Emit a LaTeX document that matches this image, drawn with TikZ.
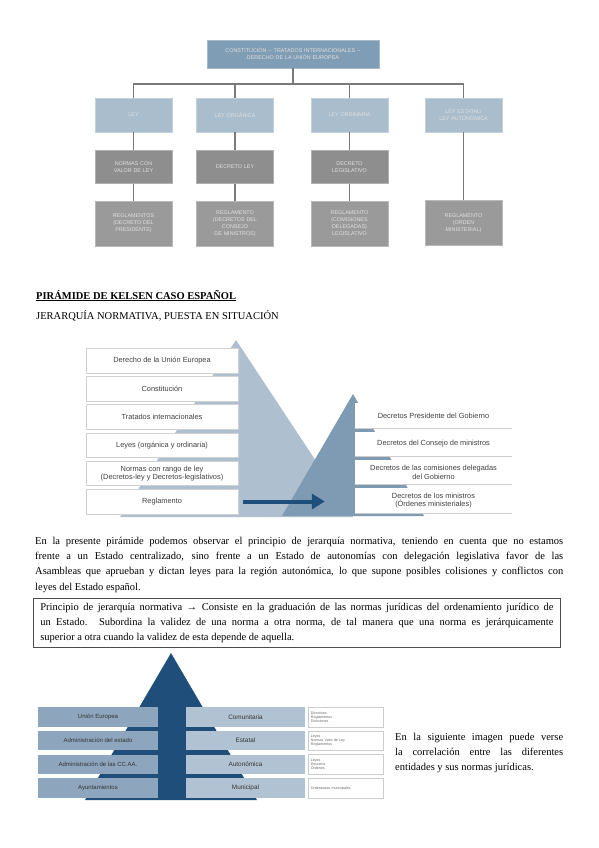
\documentclass[tikz,border=0pt]{standalone}
\usepackage{fontspec}
\setmainfont{Liberation Serif}
\newfontfamily\diagfont{Liberation Sans}
\usetikzlibrary{arrows.meta, positioning, calc}
\definecolor{kgrayblue}{HTML}{7F9DB5}
\definecolor{klightblue}{HTML}{AABDCC}
\definecolor{kgray}{HTML}{8E8E8E}
\definecolor{kgraylt}{HTML}{9A9A9A}
\definecolor{kline}{HTML}{7A7A7A}
\definecolor{kpale}{HTML}{AEC0CF}
\definecolor{ksteel}{HTML}{7F9BB3}
\definecolor{knavy}{HTML}{1F4E7B}
\definecolor{kmid}{HTML}{8DA6BD}
\definecolor{ksoft}{HTML}{B1C3D2}

\begin{document}
\begin{tikzpicture}[x=1pt, y=-1pt,
    orgbox/.style={rectangle, fill=#1, draw=#1!70!white, line width=0.5pt,
                   minimum width=77pt, minimum height=34pt, text width=72pt,
                   align=center, inner sep=1pt,
                   font=\diagfont\fontsize{5.4}{7}\selectfont, text=white!88!black},
    conn/.style={kline, line width=1.6pt},
    stepbox/.style={rectangle, fill=white, draw=black!18, line width=0.5pt,
                    minimum width=152pt, minimum height=24.5pt, align=center,
                    inner sep=1pt, font=\diagfont\fontsize{7.4}{8.4}\selectfont, text=black!75},
    decbox/.style={rectangle, fill=white, minimum width=157pt, minimum height=24.5pt,
                   align=center, inner sep=1pt,
                   font=\diagfont\fontsize{7.4}{8.4}\selectfont, text=black!75},
    rule/.style={black!20, line width=0.8pt},
    bigarrow/.style={-{Triangle[length=13pt, width=15pt]}, knavy, line width=4pt},
    entbox/.style={rectangle, fill=#1, minimum width=120pt, minimum height=19.5pt,
                   inner sep=1pt, font=\diagfont\fontsize{6}{7}\selectfont, text=black!80},
    normbox/.style={rectangle, fill=white, draw=black!20, line width=0.4pt,
                    minimum width=75pt, minimum height=19.5pt, text width=70pt,
                    align=left, inner sep=1pt,
                    font=\diagfont\fontsize{3.6}{4.2}\selectfont, text=black!60},
    para/.style={anchor=north west, align=justify, inner sep=0pt,
                 font=\fontsize{10.5}{15.2}\selectfont}
  ]
    \useasboundingbox (0,0) rectangle (599,848);

    % organigrama
    \node[orgbox=kgrayblue, minimum width=172pt, minimum height=28pt, text width=168pt] (root) at (293,54)
        {CONSTITUCIÓN -- TRATADOS INTERNACIONALES --\\DERECHO DE LA UNIÓN EUROPEA};
    \node[orgbox=klightblue] (ley) at (133.5,115) {LEY};
    \node[orgbox=klightblue] (organica) at (235,115) {LEY ORGÁNICA};
    \node[orgbox=klightblue] (ordinaria) at (349.5,115) {LEY ORDINARIA};
    \node[orgbox=klightblue] (estatal) at (463.5,115) {LEY ESTATAL/\\LEY AUTONÓMICA};
    \node[orgbox=kgray, minimum height=33pt, below=18pt of ley] (normas) {NORMAS CON\\VALOR DE LEY};
    \node[orgbox=kgray, minimum height=33pt, below=18pt of organica] (dley) {DECRETO LEY};
    \node[orgbox=kgray, minimum height=33pt, below=18pt of ordinaria] (dleg) {DECRETO\\LEGISLATIVO};
    \node[orgbox=kgraylt, minimum height=45pt, below=17pt of normas] (regpres) {REGLAMENTOS\\(DECRETO DEL\\PRESIDENTE)};
    \node[orgbox=kgraylt, minimum height=45pt, below=17pt of dley] (regcons) {REGLAMENTO\\(DECRETOS DEL\\CONSEJO\\DE MINISTROS)};
    \node[orgbox=kgraylt, minimum height=45pt, below=17pt of dleg] (regcom) {REGLAMENTO\\(COMISIONES\\DELEGADAS)\\LEGISLATIVO};
    \node[orgbox=kgraylt, minimum height=45pt, below=68pt of estatal] (regmin) {REGLAMENTO\\(ORDEN\\MINISTERIAL)};

    \coordinate (bus) at (293,84);
    \draw[conn] (root) -- (bus);
    \draw[conn] (ley.north) |- (bus) -| (estatal.north);
    \draw[conn] (organica.north) |- (bus);
    \draw[conn] (ordinaria.north) |- (bus);
    \draw[conn] (ley) -- (normas);
    \draw[conn] (organica) -- (dley);
    \draw[conn] (ordinaria) -- (dleg);
    \draw[conn] (normas) -- (regpres);
    \draw[conn] (dley) -- (regcons);
    \draw[conn] (dleg) -- (regcom);
    \draw[conn] (estatal) -- (regmin);

    % titulos
    \node[anchor=base west, inner sep=0pt, font=\fontsize{10.5}{12}\selectfont\bfseries] (titulo) at (36,299)
        {\underline{PIRÁMIDE DE KELSEN CASO ESPAÑOL}};
    \node[anchor=base west, inner sep=0pt, font=\fontsize{10.5}{12}\selectfont] (subtitulo) at (36,319)
        {JERARQUÍA NORMATIVA, PUESTA EN SITUACIÓN};

    % piramide de Kelsen
    \fill[kpale] (236,340) -- (353,517) -- (120,517) -- cycle;
    \fill[ksteel] (353,394) -- (424,516) -- (282,516) -- cycle;

    \node[stepbox] (ue) at (162,360.5) {Derecho de la Unión Europea};
    \node[stepbox, below=3.2pt of ue] (consti) {Constitución};
    \node[stepbox, below=3.2pt of consti] (tratados) {Tratados internacionales};
    \node[stepbox, below=3.2pt of tratados] (leyes) {Leyes (orgánica y ordinaria)};
    \node[stepbox, below=3.2pt of leyes] (rango) {Normas con rango de ley\\(Decretos-ley y Decretos-legislativos)};
    \node[stepbox, below=3.2pt of rango] (regl) {Reglamento};

    \node[decbox] (pres) at (433.5,415.5) {Decretos Presidente del Gobierno};
    \node[decbox, below=3.5pt of pres] (consejo) {Decretos del Consejo de ministros};
    \node[decbox, below=3.5pt of consejo] (comis) {Decretos de las comisiones delegadas\\del Gobierno};
    \node[decbox, below=3.5pt of comis] (minis) {Decretos de los ministros\\(Órdenes ministeriales)};
    \foreach \n in {pres, consejo, comis, minis}
      \draw[rule] (\n.south west) -- (\n.south east);

    \draw[bigarrow] ([xshift=5pt]regl.east) -- ([xshift=-30pt]minis.west |- regl.east);

    % texto
    \node[para, text width=528pt] (intro) at (35,537)
        {En la presente pirámide podemos observar el principio de jerarquía normativa, teniendo en cuenta que no estamos\linebreak
         frente a un Estado centralizado, sino frente a un Estado de autonomías con delegación legislativa favor de las\linebreak
         Asambleas que aprueban y dictan leyes para la región autonómica, lo que supone posibles colisiones y conflictos con\linebreak
         leyes del Estado español.};
    \node[draw=black!70, line width=0.8pt, anchor=north west, text width=513pt, inner xsep=7pt, inner ysep=4.5pt,
          align=justify, font=\fontsize{10.5}{15.2}\selectfont] (principio) at (33,598)
        {Principio de jerarquía normativa → Consiste en la graduación de las normas jurídicas del ordenamiento jurídico de\linebreak
         un Estado. Subordina la validez de una norma a otra norma, de tal manera que una norma es jerárquicamente\linebreak
         superior a otra cuando la validez de esta depende de aquella.};

    % entidades y normas
    \fill[knavy] (171,653) -- (257,800) -- (85,800) -- cycle;

    \node[entbox=kmid] (uni) at (98,717) {Unión Europea};
    \node[entbox=kmid, below=3.8pt of uni] (admest) {Administración del estado};
    \node[entbox=kmid, below=3.8pt of admest] (admcc) {Administración de las CC.AA.};
    \node[entbox=kmid, below=3.8pt of admcc] (ayto) {Ayuntamientos};

    \node[entbox=ksoft, minimum width=119pt, font=\diagfont\fontsize{6.4}{7}\selectfont] (comun) at (245.5,717) {Comunitaria};
    \node[entbox=ksoft, minimum width=119pt, font=\diagfont\fontsize{6.4}{7}\selectfont, below=3.8pt of comun] (estat) {Estatal};
    \node[entbox=ksoft, minimum width=119pt, font=\diagfont\fontsize{6.4}{7}\selectfont, below=3.8pt of estat] (auton) {Autonómica};
    \node[entbox=ksoft, minimum width=119pt, font=\diagfont\fontsize{6.4}{7}\selectfont, below=3.8pt of auton] (munic) {Municipal};

    \node[normbox, right=3pt of comun] (fcomun) {Directivas\\Reglamentos\\Decisiones};
    \node[normbox, right=3pt of estat] (festat) {Leyes\\Normas Valor de Ley\\Reglamentos};
    \node[normbox, right=3pt of auton] (fauton) {Leyes\\Decretos\\Órdenes};
    \node[normbox, right=3pt of munic] (fmunic) {Ordenanzas municipales};

    \node[para, text width=168pt] (correl) at (395,733)
        {En la siguiente imagen puede verse\linebreak
         la correlación entre las diferentes\linebreak
         entidades y sus normas jurídicas.};
  \end{tikzpicture}
\end{document}
